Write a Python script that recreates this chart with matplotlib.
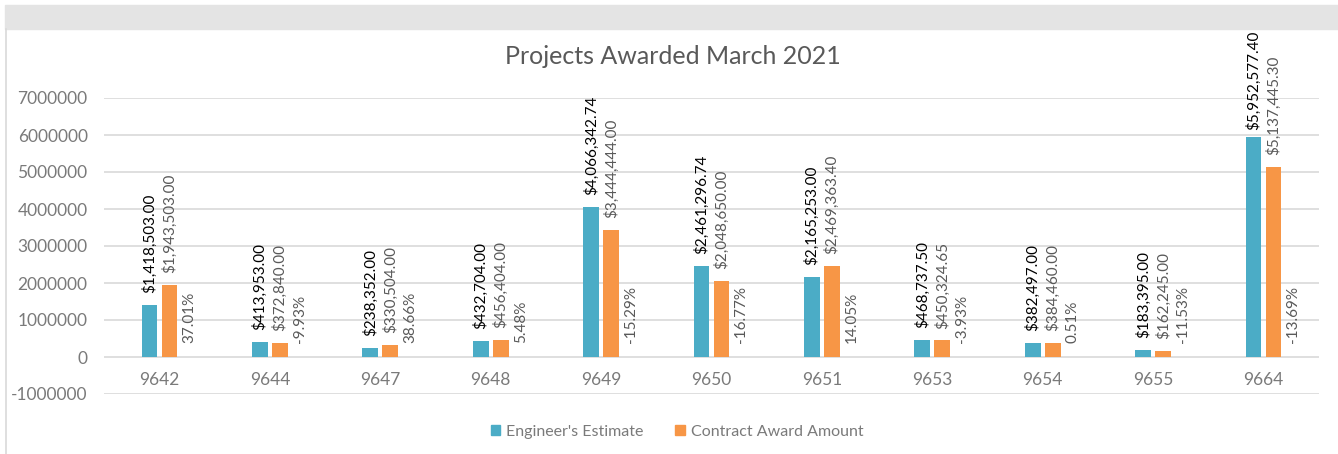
import matplotlib.pyplot as plt
from matplotlib.patches import Rectangle, Patch
from matplotlib.lines import Line2D

projetos = ['9642', '9644', '9647', '9648', '9649', '9650', '9651', '9653', '9654', '9655', '9664']
estimativa = [1418503.00, 413953.00, 238352.00, 432704.00, 4066342.74, 2461296.74,
              2165253.00, 468737.50, 382497.00, 183395.00, 5952577.40]
contrato = [1943503.00, 372840.00, 330504.00, 456404.00, 3444444.00, 2048650.00,
            2469363.40, 450324.65, 384460.00, 162245.00, 5137445.30]
diferenca = [37.01, -9.93, 38.66, 5.48, -15.29, -16.77, 14.05, -3.93, 0.51, -11.53, -13.69]
yticks = [-1000000, 0, 1000000, 2000000, 3000000, 4000000, 5000000, 6000000, 7000000]

TEAL = '#4BACC6'
LARANJA = '#F79646'
CINZA = '#7a7a7a'

plt.rcParams['font.family'] = ['Lato', 'DejaVu Sans']

W, H = 1338, 454
fig = plt.figure(figsize=(W / 100, H / 100), dpi=100)

# faixa cinza no topo e borda esquerda
fig.patches.append(Rectangle((5 / W, 1 - 29 / H), 1, 24 / H, transform=fig.transFigure,
                             color='#e4e4e4', zorder=0))
fig.lines.append(Line2D([6.5 / W, 6.5 / W], [0, 1 - 29 / H], transform=fig.transFigure,
                        color='#d9d9d9', lw=1.2))

ax = fig.add_axes([104.3 / W, 1 - 394 / H, 1214.4 / W, 296 / H])
x = list(range(len(projetos)))
larg = 0.142
desloc = 0.181

ax.bar([i - desloc / 2 for i in x], estimativa, width=larg, color=TEAL, zorder=3)
ax.bar([i + desloc / 2 for i in x], contrato, width=larg, color=LARANJA, zorder=3)

rotulos = []
for i in x:
    rotulos.append(ax.annotate(f'${estimativa[i]:,.2f}', (i - desloc / 2, estimativa[i]),
                               xytext=(0, 8.5), textcoords='offset points', rotation=90,
                               ha='center', va='bottom', fontsize=11, color='black'))
    rotulos.append(ax.annotate(f'${contrato[i]:,.2f}', (i + desloc / 2, contrato[i]),
                               xytext=(0, 8.5), textcoords='offset points', rotation=90,
                               ha='center', va='bottom', fontsize=11, color='#595959'))
    ax.annotate(f'{diferenca[i]:.2f}%', (i + desloc * 1.5, 0), xytext=(0, 10),
                textcoords='offset points', rotation=90, ha='center', va='bottom',
                fontsize=11, color='#595959')

ax.set_xlim(-0.5, len(projetos) - 0.5)
ax.set_ylim(-1000000, 7000000)
ax.set_yticks(yticks)
ax.set_yticklabels([str(v) for v in yticks])
ax.set_xticks(x)
ax.set_xticklabels(projetos)
for s in ax.spines.values():
    s.set_visible(False)
ax.spines['bottom'].set_position(('data', 0))
ax.tick_params(axis='y', length=0, pad=12, labelsize=12.5, labelcolor=CINZA)
ax.tick_params(axis='x', length=0, pad=11, labelsize=12.5, labelcolor=CINZA)
ax.yaxis.grid(True, color='#d9d9d9', lw=1.2, zorder=0)
ax.set_axisbelow(True)

fig.text(673 / W, 1 - 57 / H, 'Projects Awarded March 2021', ha='center', va='center',
         fontsize=18, color='#595959')

handles = [Patch(color=TEAL, label="Engineer's Estimate"),
           Patch(color=LARANJA, label='Contract Award Amount')]
fig.legend(handles=handles, loc='center', bbox_to_anchor=(677 / W, 1 - 432 / H), ncol=2,
           frameon=False, fontsize=11.5, labelcolor=CINZA, handlelength=0.6, handleheight=0.6,
           handletextpad=0.35, columnspacing=2.0)

# rótulos que passariam da área do gráfico descem (como o Excel faz)
fig.canvas.draw()
limite = H - 31
for r in rotulos:
    topo = r.get_window_extent().y1
    if topo > limite:
        dx, dy = r.xyann
        r.xyann = (dx, dy - (topo - limite) * 72 / 100)

fig.savefig('out.png', dpi=100)
